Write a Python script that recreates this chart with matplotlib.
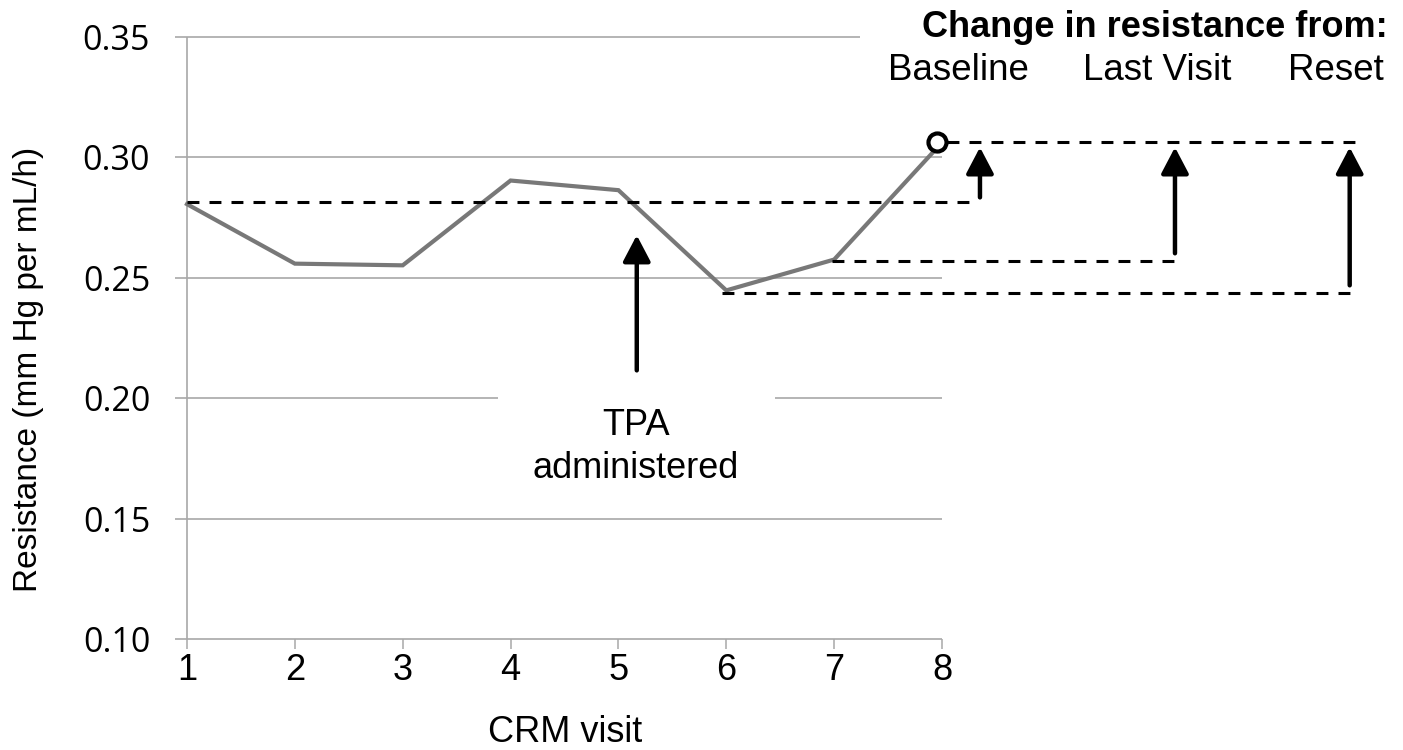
import matplotlib
matplotlib.use('Agg')
import matplotlib.pyplot as plt

# ---------------- data ----------------
visits = [1, 2, 3, 4, 5, 6, 7, 8]
resistance = [0.2805, 0.2558, 0.2551, 0.2903, 0.2863, 0.2447, 0.2575, 0.3061]
x_tick_labels = ['1', '2', '3', '4', '5', '6', '7', '8']
y_ticks = [0.10, 0.15, 0.20, 0.25, 0.30, 0.35]
y_tick_labels = ['0.10', '0.15', '0.20', '0.25', '0.30', '0.35']
ref_names = ['Baseline', 'Last Visit', 'Reset']
ref_levels = [0.2815, 0.2568, 0.2436]
current_level = 0.3061

# ---------------- layout ----------------
W, H = 1403, 750
fig = plt.figure(figsize=(W / 100, H / 100), dpi=100)
ax = fig.add_axes([187 / W, 1 - 639 / H, (942 - 187) / W, (639 - 36.7) / H])
ax.set_xlim(1, 8)
ax.set_ylim(0.10, 0.35)
for s in ax.spines.values():
    s.set_visible(False)

grid_c = '#a8a8a8'
FS = 'Liberation Sans'

# gridlines (drawn manually: some are partial)
x_left = 0.889
for yv in y_ticks:
    if abs(yv - 0.35) < 1e-9:
        ax.hlines(yv, x_left, 7.24, color=grid_c, lw=1.2, clip_on=False, zorder=1)
    elif abs(yv - 0.20) < 1e-9:
        ax.hlines(yv, x_left, 3.88, color=grid_c, lw=1.2, clip_on=False, zorder=1)
        ax.hlines(yv, 6.45, 8, color=grid_c, lw=1.2, clip_on=False, zorder=1)
    else:
        ax.hlines(yv, x_left, 8, color=grid_c, lw=1.2, clip_on=False, zorder=1)
ax.vlines(1, 0.10, 0.35, color=grid_c, lw=1.2, clip_on=False, zorder=1)

ax.set_xticks(visits)
ax.set_xticklabels(x_tick_labels, family=FS, fontsize=26)
ax.set_yticks(y_ticks)
ax.set_yticklabels(y_tick_labels, family='Open Sans', fontsize=24.5)
ax.tick_params(axis='x', direction='out', length=7, width=1.1, color=grid_c, pad=3)
ax.tick_params(axis='y', length=0, pad=26.5)

# data line
ax.plot(visits, resistance, color='#787878', lw=3.0, zorder=3, clip_on=False,
        solid_joinstyle='miter')
ax.plot([visits[-1] - 0.05], [current_level], marker='o', ms=13, mfc='white',
        mec='black', mew=3, zorder=5, clip_on=False, ls='none')

# dashed reference lines
dash = (0, (3.9, 3.3))
ax.hlines(ref_levels[0], 1, 8.306, colors='black', lw=2.2, linestyles=dash, clip_on=False, zorder=4)
ax.hlines(ref_levels[1], 6.98, 10.17, colors='black', lw=2.2, linestyles=dash, clip_on=False, zorder=4)
ax.hlines(ref_levels[2], 5.96, 11.81, colors='black', lw=2.2, linestyles=dash, clip_on=False, zorder=4)
ax.hlines(current_level, 8.05, 11.89, colors='black', lw=2.2, linestyles=dash, clip_on=False, zorder=4)

# arrows
ap = dict(arrowstyle='-|>,head_length=0.8,head_width=0.42', lw=3.2, color='black',
          shrinkA=0, shrinkB=0, mutation_scale=20)
tip = 0.3041
for xa, y0 in [(8.352, 0.2833), (10.16, 0.2601), (11.78, 0.2468)]:
    ax.annotate('', xy=(xa, tip), xytext=(xa, y0), arrowprops=ap, annotation_clip=False)
ax.annotate('', xy=(5.17, 0.2676), xytext=(5.17, 0.2115), arrowprops=ap, annotation_clip=False)

# texts
def fx(x):
    return x / W

def fy(y):
    return 1 - y / H

fig.text(fx(636), fy(435), 'TPA', family=FS, fontsize=26, ha='center', va='baseline')
fig.text(fx(636), fy(478), 'administered', family=FS, fontsize=26, ha='center', va='baseline')
fig.text(fx(1155), fy(36.7), 'Change in resistance from:', family=FS, fontsize=26,
         fontweight='bold', ha='center', va='baseline')
for name, cx in zip(ref_names, [958, 1157, 1336]):
    fig.text(fx(cx), fy(80), name, family=FS, fontsize=26.5, ha='center', va='baseline')

fig.text(fx(565), fy(742), 'CRM visit', family=FS, fontsize=26, ha='center', va='baseline')
fig.text(fx(37), fy(369), 'Resistance (mm Hg per mL/h)', family=FS, fontsize=24,
         rotation=90, rotation_mode='anchor', ha='center', va='baseline')

fig.savefig('out.png', dpi=100)
